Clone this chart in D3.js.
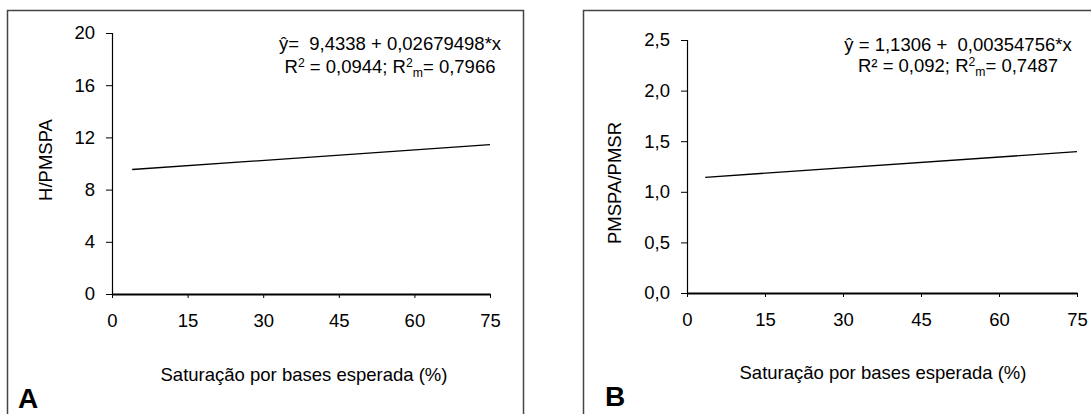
<!DOCTYPE html>
<html>
<head>
<meta charset="utf-8">
<script src="https://cdn.jsdelivr.net/npm/d3@7"></script>
<style>
  html, body { margin: 0; padding: 0; background: #fff; }
  svg { display: block; font-family: "Liberation Sans", Arial, sans-serif; }
  .pre { white-space: pre; }
</style>
</head>
<body>
<script>
// Regression lines of two ratios against expected base saturation
const panelLetters = ["A", "B"];
const yTitles = ["H/PMSPA", "PMSPA/PMSR"];
const xTitle = "Saturação por bases esperada (%)";
const xTicks = [0, 15, 30, 45, 60, 75];
const yTicksA = [0, 4, 8, 12, 16, 20];
const yTicksB = [0, 0.5, 1.0, 1.5, 2.0, 2.5];
const intercepts = [9.4338, 1.1306];
const slopes = [0.02679498, 0.00354756];
const xStart = [4, 3.5];
const xEnd = [75, 75];
const r2 = ["0,0944", "0,092"];
const r2m = ["0,7966", "0,7487"];

const W = 1091, H = 414;
const svg = d3.select("body").append("svg").attr("width", W).attr("height", H);
svg.append("rect").attr("width", W).attr("height", H).attr("fill", "#fff");

const comma = d3.formatLocale({ decimal: ",", thousands: ".", grouping: [3], currency: ["", ""] });

const panels = [
  { frame: [7.5, 10.5, 516, 420], plot: { x0: 112, x1: 490, y0: 294, y1: 33 },
    yTicks: yTicksA, yFmt: d3.format("d"), yTitlePos: [45, 160],
    eqX: 390, eqY: [50, 73], xTitlePos: [304, 381], letterPos: [18, 408],
    eq1: "ŷ=  9,4338 + 0,02679498*x", r2sup: true },
  { frame: [583.5, 10.5, 520, 420], plot: { x0: 687, x1: 1077, y0: 293, y1: 40 },
    yTicks: yTicksB, yFmt: comma.format(".1f"), yTitlePos: [614, 183],
    eqX: 958, eqY: [51, 72], xTitlePos: [883, 379], letterPos: [605, 406],
    eq1: "ŷ = 1,1306 +  0,00354756*x", r2sup: false }
];

const FS = 18.5;
const FF = "'Liberation Sans', Arial, sans-serif";

panels.forEach((p, i) => {
  const g = svg.append("g");
  // panel frame
  g.append("rect")
    .attr("x", p.frame[0]).attr("y", p.frame[1])
    .attr("width", p.frame[2]).attr("height", p.frame[3])
    .attr("fill", "none").attr("stroke", "#444").attr("stroke-width", 1.5);

  const x = d3.scaleLinear().domain([0, 75]).range([p.plot.x0, p.plot.x1]);
  const y = d3.scaleLinear().domain([p.yTicks[0], p.yTicks[p.yTicks.length - 1]])
    .range([p.plot.y0, p.plot.y1]);

  // y axis
  const ya = g.append("g").attr("transform", `translate(${p.plot.x0},0)`)
    .call(d3.axisLeft(y).tickValues(p.yTicks).tickFormat(p.yFmt).tickSize(6).tickPadding(11));
  ya.select(".domain").attr("stroke", "#000").attr("stroke-width", 1.2);
  ya.selectAll(".tick line").attr("stroke", "#000").attr("stroke-width", 1);
  ya.selectAll(".tick text").attr("font-size", FS).attr("fill", "#000").attr("font-family", FF);

  // x axis
  const xa = g.append("g").attr("transform", `translate(0,${p.plot.y0})`)
    .call(d3.axisBottom(x).tickValues(xTicks).tickFormat(d3.format("d")).tickSize(4).tickPadding(16).tickSizeOuter(0));
  xa.select(".domain").attr("stroke", "#000").attr("stroke-width", 2);
  xa.selectAll(".tick line").attr("stroke", "#000").attr("stroke-width", 1);
  xa.selectAll(".tick text").attr("font-size", FS).attr("fill", "#000").attr("font-family", FF);

  // fitted line
  const pts = [xStart[i], xEnd[i]].map(v => [v, intercepts[i] + slopes[i] * v]);
  g.append("path")
    .attr("d", d3.line().x(d => x(d[0])).y(d => y(d[1]))(pts))
    .attr("fill", "none").attr("stroke", "#000").attr("stroke-width", 1.3);

  // axis titles
  g.append("text")
    .attr("transform", `translate(${p.yTitlePos[0]},${p.yTitlePos[1]}) rotate(-90)`)
    .attr("text-anchor", "middle").attr("dy", "0.36em")
    .attr("font-size", FS).text(yTitles[i]);
  g.append("text")
    .attr("x", p.xTitlePos[0]).attr("y", p.xTitlePos[1])
    .attr("text-anchor", "middle").attr("font-size", FS).text(xTitle);

  // equation
  g.append("text").attr("class", "pre").attr("x", p.eqX).attr("y", p.eqY[0])
    .attr("text-anchor", "middle").attr("font-size", FS).text(p.eq1);
  const t2 = g.append("text").attr("class", "pre").attr("x", p.eqX).attr("y", p.eqY[1])
    .attr("text-anchor", "middle").attr("font-size", FS);
  if (p.r2sup) {
    t2.append("tspan").text("R");
    t2.append("tspan").attr("dy", -6).attr("font-size", FS * 0.66).text("2");
    t2.append("tspan").attr("dy", 6).text(` = ${r2[i]}; R`);
  } else {
    t2.append("tspan").text(`R² = ${r2[i]}; R`);
  }
  t2.append("tspan").attr("dy", -6).attr("font-size", FS * 0.66).text("2");
  t2.append("tspan").attr("dy", 10).attr("font-size", FS * 0.66).text("m");
  t2.append("tspan").attr("dy", -4).text(`= ${r2m[i]}`);

  // panel letter
  g.append("text").attr("x", p.letterPos[0]).attr("y", p.letterPos[1])
    .attr("font-size", 28).attr("font-weight", "bold").text(panelLetters[i]);
});
</script>
</body>
</html>
